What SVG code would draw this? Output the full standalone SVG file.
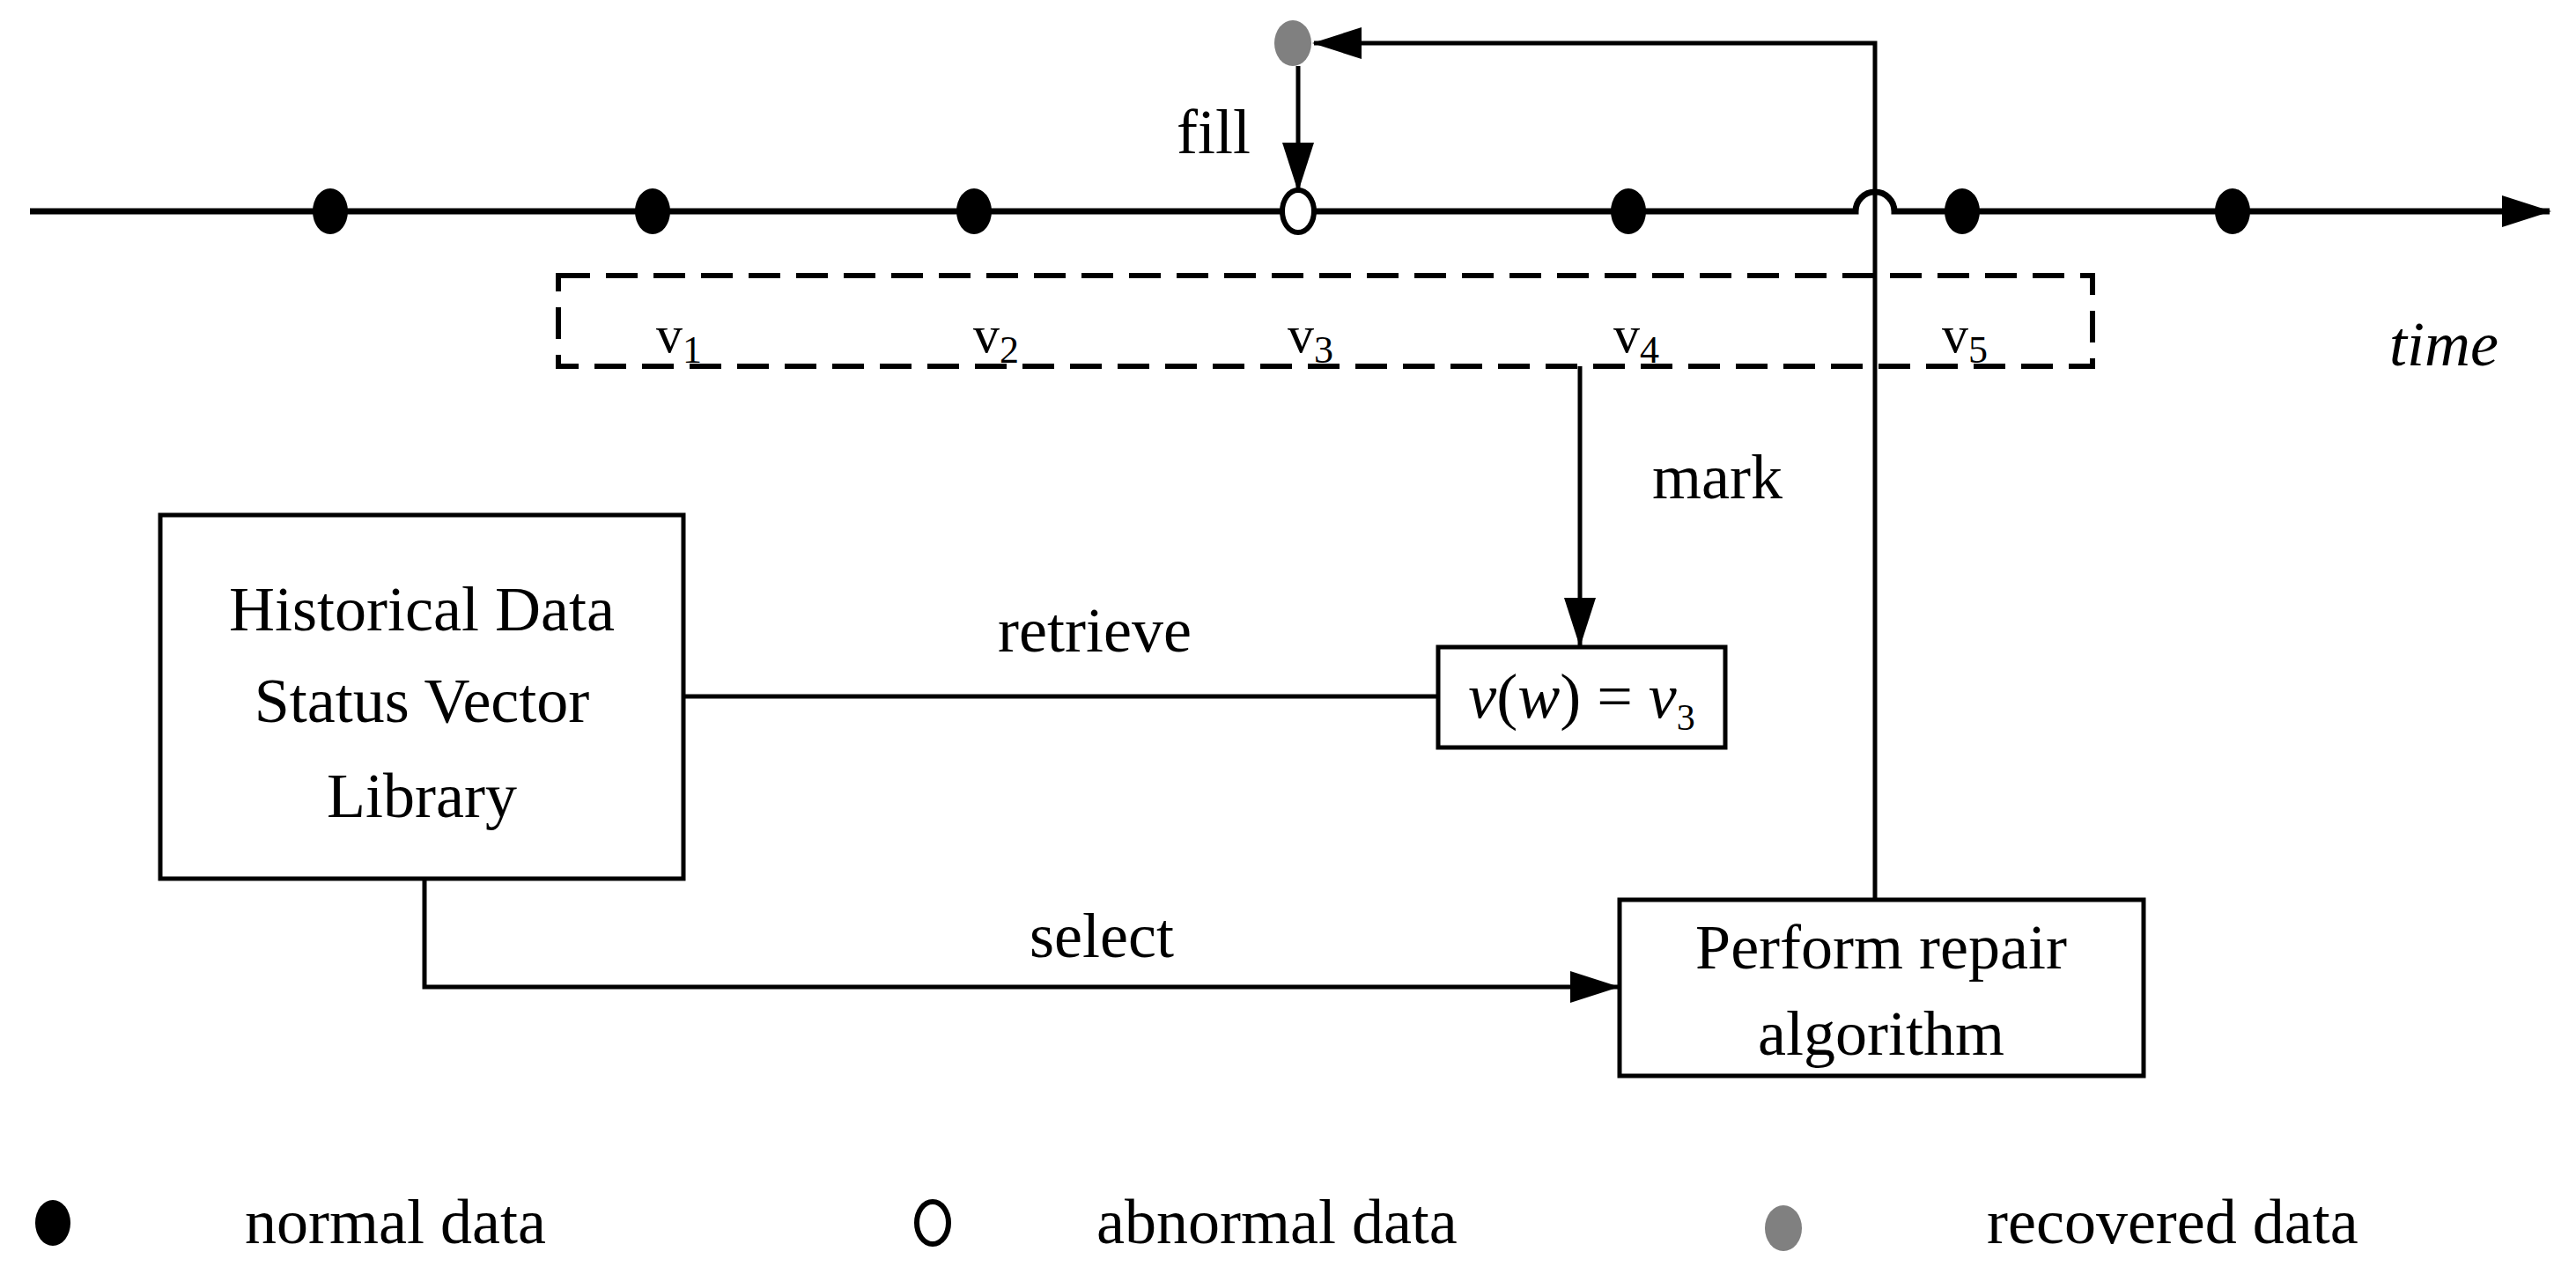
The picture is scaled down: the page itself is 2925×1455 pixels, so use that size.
<svg xmlns="http://www.w3.org/2000/svg" width="2925" height="1455" viewBox="0 0 2925 1455">
<style>
text{font-family:"Liberation Serif","Times New Roman",serif;fill:#000}
.t{font-size:72px;text-anchor:middle}
.v{font-size:60px}
.s{font-size:44px}
.ln{stroke:#000;stroke-width:5;fill:none}
.box{stroke:#000;stroke-width:5;fill:#fff}
.nd{fill:#000}
</style>
<defs>
<marker id="ah" markerUnits="userSpaceOnUse" markerWidth="56" markerHeight="36" refX="54" refY="18" orient="auto">
<path d="M0,0 L56,18 L0,36 Z" fill="#000"/>
</marker>
</defs>
<rect width="2925" height="1455" fill="#fff"/>
<g id="axis">
<path d="M34,240 H2107 A22,22 0 0 1 2151,240 H2895" stroke="#000" stroke-width="7" fill="none" marker-end="url(#ah)"/>
<text x="2775" y="415" class="t" font-style="italic" font-size="64">time</text>
</g>
<g id="points">
<ellipse cx="375" cy="240" rx="20" ry="26" class="nd"/>
<ellipse cx="741" cy="240" rx="20" ry="26" class="nd"/>
<ellipse cx="1106" cy="240" rx="20" ry="26" class="nd"/>
<ellipse cx="1474" cy="240" rx="18" ry="24" fill="#fff" stroke="#000" stroke-width="6"/>
<ellipse cx="1849" cy="240" rx="20" ry="26" class="nd"/>
<ellipse cx="2228" cy="240" rx="20" ry="26" class="nd"/>
<ellipse cx="2535" cy="240" rx="20" ry="26" class="nd"/>
<ellipse id="recovered" cx="1468" cy="49" rx="21" ry="26" fill="#808080"/>
</g>
<g id="window">
<rect x="634" y="313" width="1742" height="103" fill="none" stroke="#000" stroke-width="6" stroke-dasharray="36,18"/>
<text x="745" y="400" class="v">v<tspan class="s" dy="12">1</tspan></text>
<text x="1105" y="400" class="v">v<tspan class="s" dy="12">2</tspan></text>
<text x="1462" y="400" class="v">v<tspan class="s" dy="12">3</tspan></text>
<text x="1832" y="400" class="v">v<tspan class="s" dy="12">4</tspan></text>
<text x="2205" y="400" class="v">v<tspan class="s" dy="12">5</tspan></text>
</g>
<g id="library">
<rect x="182" y="585" width="594" height="413" class="box"/>
<text x="479" y="716" class="t">Historical Data</text>
<text x="479" y="820" class="t">Status Vector</text>
<text x="479" y="928" class="t">Library</text>
</g>
<g id="vw">
<rect x="1633" y="735" width="326" height="114" class="box"/>
<text x="1796" y="815" class="t" font-size="66"><tspan font-style="italic">v</tspan>(<tspan font-style="italic">w</tspan>) = <tspan font-style="italic">v</tspan><tspan font-size="42" dy="14">3</tspan></text>
</g>
<g id="repair">
<rect x="1839" y="1022" width="595" height="200" class="box"/>
<text x="2136" y="1100" class="t">Perform repair</text>
<text x="2136" y="1198" class="t">algorithm</text>
</g>
<g id="connectors">
<path d="M2129,1022 V49 H1492" class="ln" marker-end="url(#ah)"/>
<path d="M1474,75 V216" class="ln" marker-end="url(#ah)"/>
<path d="M1794,416 V733" class="ln" marker-end="url(#ah)"/>
<path d="M776,791 H1633" class="ln"/>
<path d="M482,998 V1121 H1837" class="ln" marker-end="url(#ah)"/>
<text x="1378" y="174" class="t">fill</text>
<text x="1950" y="566" class="t">mark</text>
<text x="1243" y="740" class="t">retrieve</text>
<text x="1251" y="1087" class="t">select</text>
</g>
<g id="legend">
<ellipse cx="60" cy="1389" rx="20" ry="26" class="nd"/>
<text x="278" y="1412" font-size="72">normal data</text>
<ellipse cx="1059" cy="1389" rx="18" ry="24" fill="#fff" stroke="#000" stroke-width="6"/>
<text x="1245" y="1412" font-size="72">abnormal data</text>
<ellipse cx="2025" cy="1395" rx="21" ry="26" fill="#808080"/>
<text x="2256" y="1412" font-size="72">recovered data</text>
</g>
</svg>
